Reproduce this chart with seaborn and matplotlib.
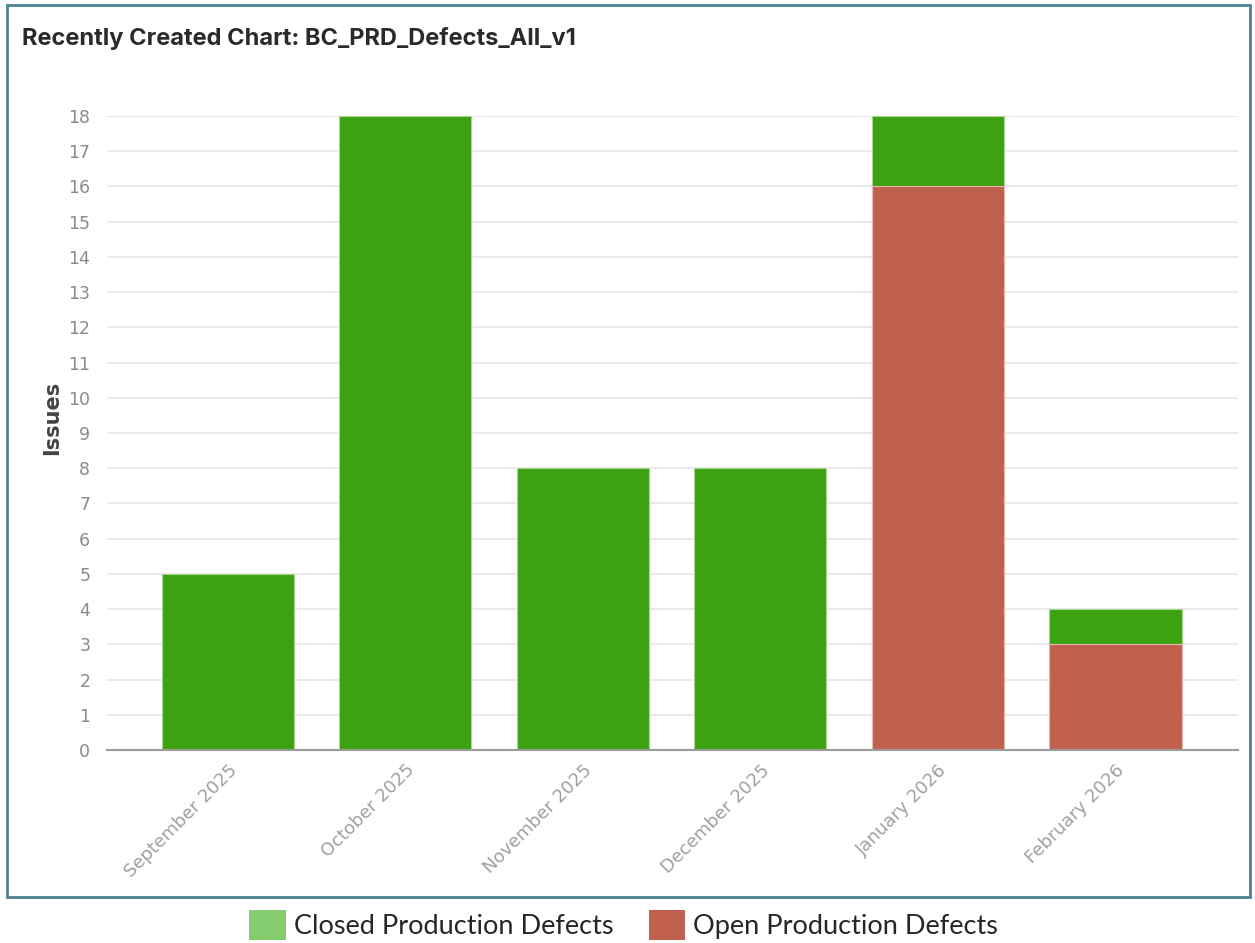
import matplotlib
matplotlib.use("Agg")
import matplotlib.pyplot as plt
import seaborn as sns
import pandas as pd
from matplotlib.patches import Rectangle, Patch

months = ["September 2025", "October 2025", "November 2025", "December 2025", "January 2026", "February 2026"]
closed = [5, 18, 8, 8, 2, 1]
open_ = [0, 0, 0, 0, 16, 3]
yticks = list(range(0, 19))

total = [c + o for c, o in zip(closed, open_)]
df = pd.DataFrame({"month": months, "closed": closed, "open": open_, "total": total})

sns.set_theme(style="white")
plt.rcParams['font.family'] = ['DejaVu Sans']

fig = plt.figure(figsize=(12.55, 9.43), dpi=100)
ax = fig.add_axes([107/1255, 193/943, (1238-107)/1255, (750-116)/943])

green = "#3ca212"
red = "#c0604e"
sns.barplot(data=df, x="month", y="total", color=green, width=0.744, saturation=1,
            edgecolor="#a8d890", linewidth=0.8, ax=ax)
sns.barplot(data=df, x="month", y="open", color=red, width=0.744, saturation=1,
            edgecolor="#e8b8b0", linewidth=0.8, ax=ax)

ax.set_xlim(-0.68, 5.69)
ax.set_ylim(0, 18)
ax.set_yticks(yticks)
ax.set_yticklabels([str(t) for t in yticks], color="#8a8a8a", fontsize=12.5)
ax.yaxis.grid(True, color="#e6e6e6", linewidth=1.2)
ax.set_axisbelow(True)
for s in ["top", "right", "left"]:
    ax.spines[s].set_visible(False)
ax.spines["bottom"].set_color("#9a9a9a")
ax.spines["bottom"].set_linewidth(1.5)
ax.tick_params(axis="y", length=0, pad=12)
ax.tick_params(axis="x", length=4, color="#bbbbbb", pad=4)
ax.set_xticks(range(len(months)))
ax.set_xticklabels(months, rotation=45, ha="right", rotation_mode="anchor",
                   color="#a0a0a0", fontsize=13)
ax.set_xlabel("")
ax.set_ylabel("Issues", fontsize=15, fontweight="bold", color="#444444")
ax.yaxis.set_label_coords(52/1255, 1 - 418/943, transform=fig.transFigure)
ax.yaxis.label.set_va("center")

# panel border
fig.patches.append(Rectangle((7/1255, 1 - 897/943), (1250-7)/1255, (897-5)/943,
                             transform=fig.transFigure, fill=False,
                             edgecolor="#4a8290", linewidth=2))

fig.text(22/1255, 1 - 38/943, "Recently Created Chart: BC_PRD_Defects_All_v1",
         fontsize=17, fontweight="bold", color="#2a2a2a", va="center", ha="left",
         family=["Inter", "DejaVu Sans"])

handles = [Patch(facecolor="#85cc6e", edgecolor="none", label="Closed Production Defects"),
           Patch(facecolor=red, edgecolor="none", label="Open Production Defects")]
fig.legend(handles=handles, loc="center", bbox_to_anchor=(0.497, 1 - 925/943), ncol=2,
           frameon=False, handlelength=1.35, handleheight=1.35,
           handletextpad=0.3, columnspacing=1.3, labelcolor="#262626",
           prop={"family": ["Lato", "DejaVu Sans"], "size": 19.5})

fig.savefig("out.png", dpi=100)
